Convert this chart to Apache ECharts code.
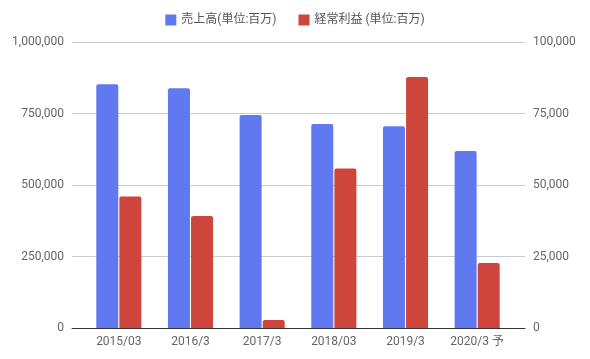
<!DOCTYPE html>
<html><head><meta charset="utf-8">
<script src="https://cdn.jsdelivr.net/npm/echarts@6/dist/echarts.min.js"></script>
<style>html,body{margin:0;padding:0;background:#fff}#c{width:590px;height:359px}</style>
</head><body><div id="c"></div>
<script>
const categories = ['2015/03', '2016/3', '2017/3', '2018/03', '2019/3', '2020/3 予'];
const sales = [852000, 838000, 745000, 713000, 705000, 619000];
const ordinaryProfit = [46000, 39200, 2800, 55800, 87800, 22700];
const leftTicks = [0, 250000, 500000, 750000, 1000000];
const rightTicks = [0, 25000, 50000, 75000, 100000];

const chart = echarts.init(document.getElementById('c'));
const font = 'Roboto, "Noto Sans CJK JP", sans-serif';
const fmt = v => v.toLocaleString('en-US');
chart.setOption({
  animation: false,
  textStyle: { fontFamily: font },
  legend: {
    top: 9, left: 'center', itemWidth: 11, itemHeight: 11, itemGap: 22,
    icon: 'rect',
    textStyle: { fontSize: 12, color: '#555', fontFamily: font },
    data: ['売上高(単位:百万)', '経常利益 (単位:百万)']
  },
  grid: [
    { left: 72, right: 65, top: 42, bottom: 31 },
    { left: 83, right: 77, top: 42, bottom: 31 }
  ],
  xAxis: [
    { type: 'category', gridIndex: 0, data: [''], axisLine: { lineStyle: { color: '#333', width: 1 } },
      axisTick: { show: false }, axisLabel: { show: false } },
    { type: 'category', gridIndex: 1, data: categories, axisLine: { show: false }, axisTick: { show: false },
      axisLabel: { color: '#666', fontSize: 12, margin: 8, fontFamily: font } }
  ],
  yAxis: [
    { type: 'value', gridIndex: 0, min: 0, max: 1000000, interval: 250000, position: 'left',
      axisLine: { show: false }, axisTick: { show: false },
      axisLabel: { color: '#666', fontSize: 12, margin: 8, formatter: fmt },
      splitLine: { lineStyle: { color: '#cccccc' } } },
    { type: 'value', gridIndex: 0, min: 0, max: 100000, interval: 25000, position: 'right',
      axisLine: { show: false }, axisTick: { show: false },
      axisLabel: { color: '#666', fontSize: 12, margin: 8, formatter: fmt },
      splitLine: { show: false } },
    { type: 'value', gridIndex: 1, min: 0, max: 1000000, show: false },
    { type: 'value', gridIndex: 1, min: 0, max: 100000, show: false }
  ],
  series: [
    { name: '売上高(単位:百万)', type: 'bar', xAxisIndex: 1, yAxisIndex: 2, data: sales,
      barWidth: 22, barGap: '5%', itemStyle: { color: '#6079F0', borderRadius: [2, 2, 0, 0] } },
    { name: '経常利益 (単位:百万)', type: 'bar', xAxisIndex: 1, yAxisIndex: 3, data: ordinaryProfit,
      barWidth: 22, barGap: '5%', itemStyle: { color: '#CE463B', borderRadius: [2, 2, 0, 0] } }
  ]
});
</script></body></html>
